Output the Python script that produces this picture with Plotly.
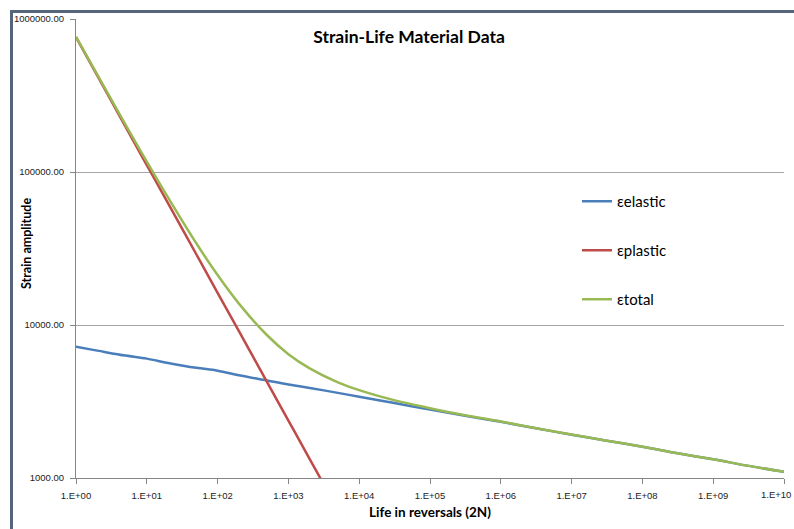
import plotly.graph_objects as go

# Life in reversals (2N)
life = [1, 2, 5, 10, 20, 50, 100, 200, 500, 1e3, 2e3, 5e3, 1e4, 3e4, 1e5, 3e5,
        1e6, 3e6, 1e7, 3e7, 1e8, 3e8, 1e9, 3e9, 1e10]

eps_elastic = [7200, 6800, 6310, 6030, 5650, 5250, 5030, 4700, 4340, 4080, 3880,
               3600, 3400, 3100, 2800, 2560, 2330, 2120, 1920, 1760, 1600, 1455,
               1325, 1205, 1100]

life_plastic = [1, 2, 5, 10, 20, 50, 100, 200, 500, 1e3, 2e3, 5e3, 1e4]
eps_plastic = [760000, 426000, 198000, 111000, 62300, 29000, 16200, 9110, 4230,
               2375, 1330, 620, 347]

eps_total = [767000, 433000, 204000, 117000, 68000, 34200, 21200, 13800, 8570,
             6450, 5210, 4220, 3750, 3240, 2860, 2580, 2340, 2125, 1922, 1761,
             1600, 1455, 1325, 1205, 1100]

x_tickvals = [1, 1e1, 1e2, 1e3, 1e4, 1e5, 1e6, 1e7, 1e8, 1e9, 1e10]
x_ticktext = ["1.E+00", "1.E+01", "1.E+02", "1.E+03", "1.E+04", "1.E+05",
              "1.E+06", "1.E+07", "1.E+08", "1.E+09", "1.E+10"]
y_tickvals = [1e3, 1e4, 1e5, 1e6]
y_ticktext = ["1000.00", "10000.00", "100000.00", "1000000.00"]

W, H = 794, 529
ML, MR, MT, MB = 76, 10, 19, 51
PW, PH = W - ML - MR, H - MT - MB

def px(xp):
    return (xp - ML) / PW

def py(yp):
    return (H - MB - yp) / PH

tick_font = dict(size=9.5, family="Liberation Sans", color="#222222")

fig = go.Figure()
fig.add_trace(go.Scatter(x=life, y=eps_elastic, mode="lines", name="εelastic",
                         line=dict(color="#4A7EBB", width=2.5, shape="spline"),
                         legendgroup="a"))
fig.add_trace(go.Scatter(x=life_plastic, y=eps_plastic, mode="lines", name="εplastic",
                         line=dict(color="#BE4B48", width=2.5, shape="spline"),
                         legendgroup="b"))
fig.add_trace(go.Scatter(x=life, y=eps_total, mode="lines", name="εtotal",
                         line=dict(color="#98B954", width=2.5, shape="spline"),
                         legendgroup="c"))

border = "#55657A"
fig.add_shape(type="line", xref="paper", yref="paper",
              x0=px(10), x1=px(800), y0=py(11.5), y1=py(11.5),
              line=dict(color=border, width=3), layer="above")
fig.add_shape(type="line", xref="paper", yref="paper",
              x0=px(11.5), x1=px(11.5), y0=py(10), y1=py(540),
              line=dict(color=border, width=3), layer="above")

# y-axis title (placed over the tick-label column as in the original)
fig.add_annotation(x=px(26), y=py(244), xref="paper", yref="paper",
                   text="<b>Strain amplitude</b>", textangle=-90, showarrow=False,
                   xanchor="center", yanchor="middle",
                   font=dict(size=12.5, family="Lato", color="#000000"))

# last x tick label sits at the page edge; keep it fully on the page
fig.add_annotation(x=px(W - 1), y=py(494), xref="paper", yref="paper",
                   text=x_ticktext[-1], showarrow=False,
                   xanchor="right", yanchor="middle", font=tick_font)

fig.update_layout(
    width=W, height=H,
    margin=dict(l=ML, r=MR, t=MT, b=MB, autoexpand=False),
    paper_bgcolor="white", plot_bgcolor="white",
    font=dict(family="Lato, Liberation Sans, sans-serif", color="#000000"),
    title=dict(text="<b>Strain-Life Material Data</b>", xref="container",
               x=409 / W, xanchor="center",
               y=1 - 37 / H, yanchor="middle", font=dict(size=17.5, family="Lato"),
               automargin=False),
    showlegend=True,
    legend=dict(x=px(577), y=py(185), xanchor="left", yanchor="top",
                font=dict(size=15, family="Lato"), tracegroupgap=26.5,
                bgcolor="rgba(0,0,0,0)", itemwidth=30),
    xaxis=dict(type="log", range=[0, 10], tickvals=x_tickvals,
               ticktext=x_ticktext[:-1] + [""], automargin=False,
               ticklabelstandoff=4,
               showgrid=False, showline=True, linecolor="#868686", linewidth=1,
               ticks="outside", ticklen=5, tickcolor="#868686",
               tickfont=tick_font,
               title=dict(text="<b>Life in reversals (2N)</b>", standoff=7,
                          font=dict(size=13.5, family="Lato")),
               zeroline=False),
    yaxis=dict(type="log", range=[3, 6], tickvals=y_tickvals, ticktext=y_ticktext,
               automargin=False, ticklabelstandoff=4,
               showgrid=True, gridcolor="#A6A6A6", gridwidth=1,
               showline=True, linecolor="#868686", linewidth=1,
               ticks="outside", ticklen=5, tickcolor="#868686",
               tickfont=tick_font,
               zeroline=False),
)

fig.write_html("out.html", config={"displayModeBar": False},
               post_script="document.body.style.margin='0';")
